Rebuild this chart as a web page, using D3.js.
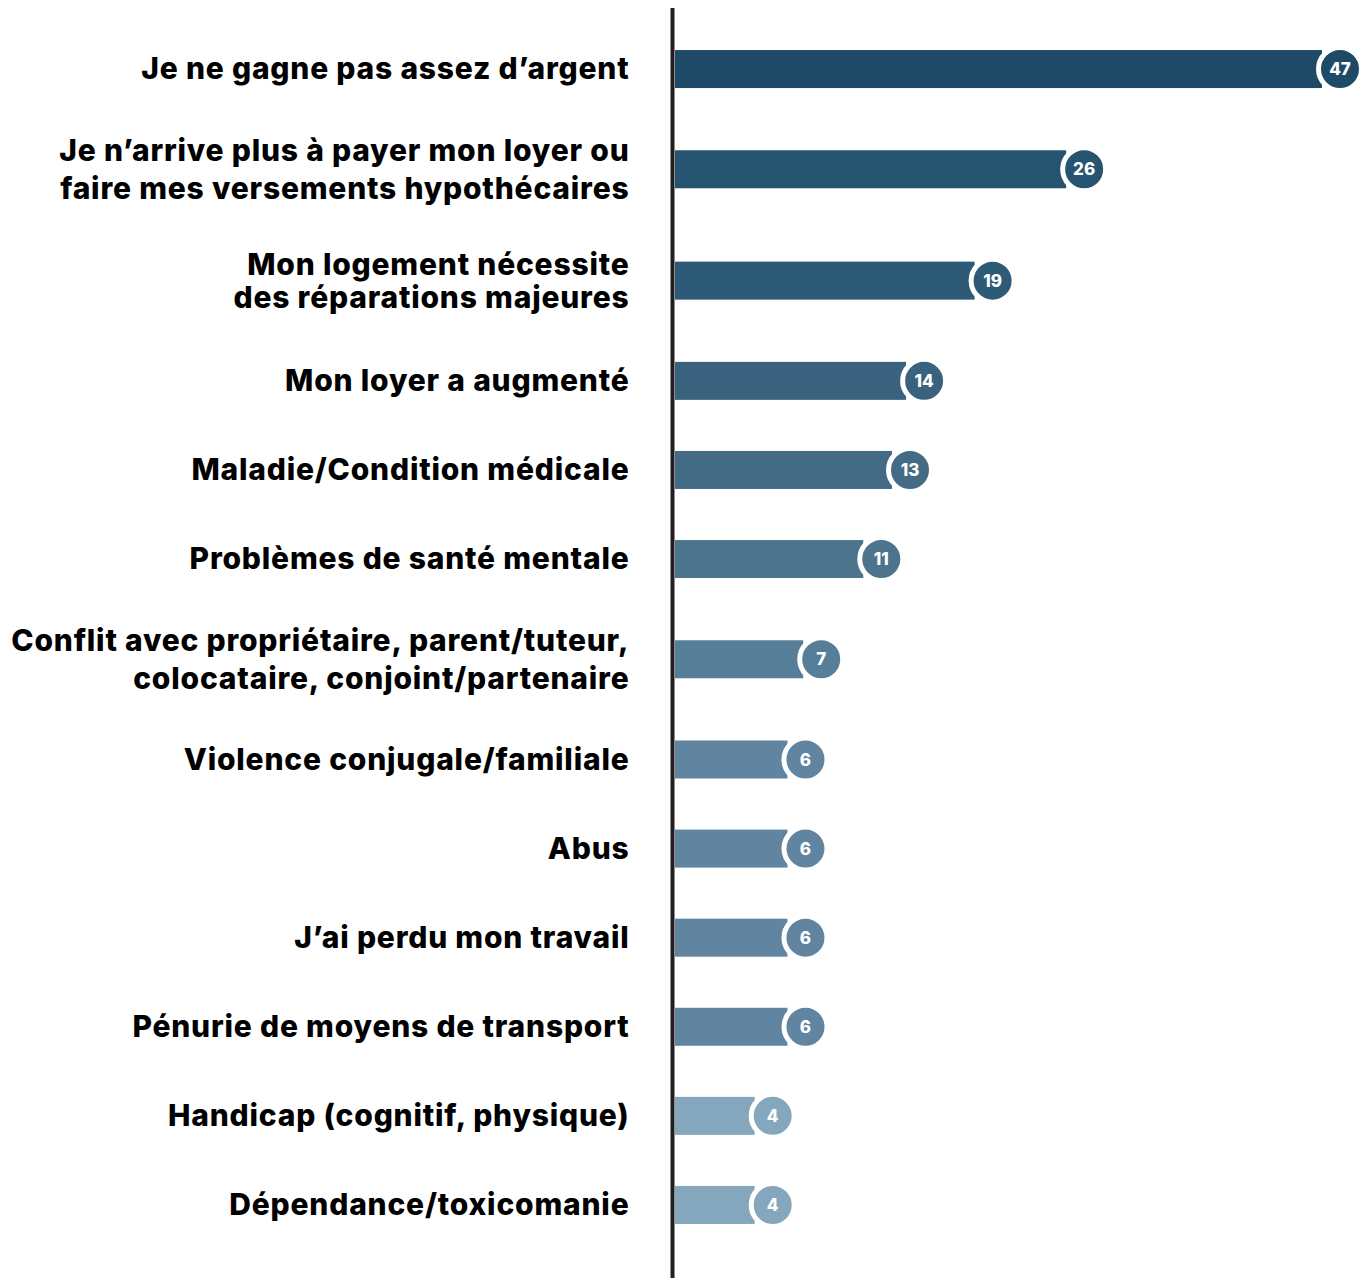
<!DOCTYPE html>
<html lang="fr">
<head>
<meta charset="utf-8">
<script src="https://cdn.jsdelivr.net/npm/d3@7"></script>
<style>
  html, body { margin: 0; padding: 0; background: #ffffff; }
  svg { display: block; }
  .label { font-family: "Inter", "DejaVu Sans", sans-serif; font-weight: 800; fill: #000; letter-spacing: 0.8px; }
  .value { font-family: "Inter", "DejaVu Sans", sans-serif; font-weight: 800; fill: #fff; }
</style>
</head>
<body>
<svg id="chart" width="1371" height="1278"></svg>
<script>
// Reasons given, one entry per row (line breaks split the label)
const categories = [
  ["Je ne gagne pas assez d’argent"],
  ["Je n’arrive plus à payer mon loyer ou", "faire mes versements hypothécaires"],
  ["Mon logement nécessite", "des réparations majeures"],
  ["Mon loyer a augmenté"],
  ["Maladie/Condition médicale"],
  ["Problèmes de santé mentale"],
  ["Conflit avec propriétaire, parent/tuteur,", "colocataire, conjoint/partenaire"],
  ["Violence conjugale/familiale"],
  ["Abus"],
  ["J’ai perdu mon travail"],
  ["Pénurie de moyens de transport"],
  ["Handicap (cognitif, physique)"],
  ["Dépendance/toxicomanie"]
];
const values = [47, 26, 19, 14, 13, 11, 7, 6, 6, 6, 6, 4, 4];
const colors = ["#1f4a67", "#255370", "#2d5a77", "#3a617e", "#446b86", "#4c748d",
                "#577e98", "#6184a0", "#6184a0", "#6184a0", "#6184a0", "#85a7bd", "#85a7bd"];

const svg = d3.select("#chart");
const axisX = 672.5;
const barX0 = 675;
const barH = 38;
const r = 21.5;
const labelX = 629.5;

// Row heights grow with the number of label lines
const rowWeight = categories.map(c => 1 + 0.25 * (c.length - 1));
const ends = d3.cumsum(rowWeight);
const starts = ends.map((e, i) => e - rowWeight[i]);
const total = ends[ends.length - 1];
const y = d3.scaleLinear().domain([0, total]).range([24.5, 1249.5]);
const rowCenter = i => y((starts[i] + ends[i]) / 2);

const x = d3.scalePow().exponent(0.85).domain([0, 47]).range([0, 647]);

const rows = values.map((v, i) => ({ v, i, lines: categories[i], color: colors[i] }));

// Bars
svg.append("g").selectAll("rect").data(rows).join("rect")
  .attr("x", barX0)
  .attr("y", d => rowCenter(d.i) - barH / 2)
  .attr("width", d => x(d.v))
  .attr("height", barH)
  .attr("fill", d => d.color);

// Value badges at bar ends
const badge = svg.append("g").selectAll("g").data(rows).join("g")
  .attr("transform", d => `translate(${barX0 + x(d.v) + 18},${rowCenter(d.i)})`);
badge.append("circle")
  .attr("r", r)
  .attr("fill", d => d.color)
  .attr("stroke", "#fff")
  .attr("stroke-width", 5);
badge.append("text")
  .attr("class", "value")
  .attr("text-anchor", "middle")
  .attr("dy", "0.36em")
  .attr("font-size", 17)
  .text(d => d.v);

// Category labels, right-aligned against the axis
const lineGap = i => (i === 2 ? 33 : 38);
const lab = svg.append("g").selectAll("text").data(rows).join("text")
  .attr("class", "label")
  .attr("text-anchor", "end")
  .attr("font-size", 30)
  .attr("x", labelX)
  .attr("y", d => rowCenter(d.i));
lab.selectAll("tspan")
  .data(d => d.lines.map((t, k) => ({ t, k, n: d.lines.length, gap: lineGap(d.i) })))
  .join("tspan")
  .attr("x", labelX)
  .attr("dy", d => d.k === 0 ? (d.n === 1 ? 10 : 11 - d.gap / 2) : d.gap)
  .text(d => d.t);

// Vertical baseline
svg.append("line")
  .attr("x1", axisX).attr("x2", axisX)
  .attr("y1", 8).attr("y2", 1278)
  .attr("stroke", "#231f20")
  .attr("stroke-width", 4);
</script>
</body>
</html>
